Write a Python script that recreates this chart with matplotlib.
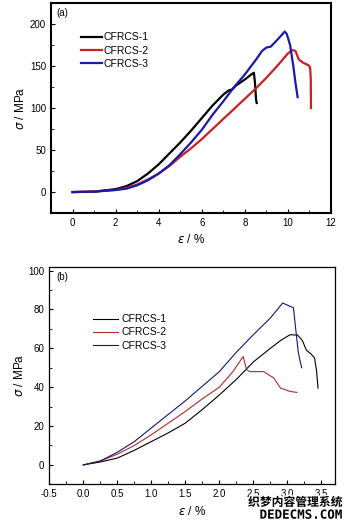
import numpy as np
import matplotlib.pyplot as plt
import matplotlib.patheffects as pe
from matplotlib.ticker import MultipleLocator

# panel (a)
a1_x = [0, 1, 2, 2.5, 3, 3.5, 4, 4.5, 5, 5.5, 6, 6.5, 7, 7.25, 7.4, 7.6, 8.0, 8.3, 8.42, 8.47, 8.52, 8.55]
a1_y = [0, 0.5, 3.5, 7, 13, 22, 33, 46, 59, 73, 88, 103, 116, 121, 122, 127, 134, 140, 142, 130, 110, 106]
a2_x = [0, 1, 2, 2.5, 3, 3.5, 4, 4.5, 5, 5.5, 6, 6.5, 7, 7.5, 8, 8.5, 9, 9.5, 10, 10.2, 10.35, 10.5, 10.7, 10.95, 11.03, 11.06, 11.07]
a2_y = [0, 0.5, 2.5, 5, 9, 15, 22, 31, 42, 52, 63, 75, 87, 99, 111, 123, 136, 150, 165, 169, 168, 158, 154, 151, 148, 135, 100]
a3_x = [0, 1, 2, 2.5, 3, 3.5, 4, 4.5, 5, 5.5, 6, 6.5, 7, 7.5, 8, 8.5, 8.8, 9.0, 9.2, 9.5, 9.85, 9.95, 10.1, 10.25, 10.35, 10.45]
a3_y = [0, 0.5, 2.5, 4, 8, 14, 22, 32, 45, 59, 74, 92, 108, 125, 140, 157, 168, 172, 173, 181, 191, 188, 175, 150, 130, 113]

# panel (b)
b1_x = [0, 0.25, 0.5, 0.75, 1.0, 1.25, 1.5, 1.75, 2.0, 2.25, 2.5, 2.75, 2.9, 3.04, 3.15, 3.22, 3.28, 3.35, 3.4, 3.43, 3.45]
b1_y = [0, 1.5, 3.5, 7.5, 12, 16.5, 21.5, 28.5, 36, 44, 53, 60, 64, 67, 66.8, 64, 59, 57, 55, 48, 39.5]
b2_x = [0, 0.25, 0.5, 0.75, 1.0, 1.25, 1.5, 1.75, 2.0, 2.2, 2.35, 2.4, 2.45, 2.65, 2.8, 2.9, 3.04, 3.14]
b2_y = [0, 2, 5.5, 10, 15.5, 21.5, 27.5, 34, 40, 48, 55.8, 49, 48, 48, 44.7, 39.5, 37.8, 37.3]
b3_x = [0, 0.25, 0.5, 0.75, 1.0, 1.25, 1.5, 1.75, 2.0, 2.25, 2.5, 2.75, 2.93, 3.04, 3.09, 3.11, 3.16, 3.19, 3.21]
b3_y = [0, 2, 6.5, 12, 19, 26, 33, 40.5, 48, 58, 67, 75.6, 83.3, 81.6, 80.8, 74, 58, 53, 50]

labels = ["CFRCS-1", "CFRCS-2", "CFRCS-3"]

plt.rcParams['font.family'] = ['Liberation Sans', 'DejaVu Sans']

fig = plt.figure(figsize=(3.53, 5.30), dpi=100)
ax1 = fig.add_axes([0.1445, 0.598, 0.7932, 0.3963])
ax2 = fig.add_axes([0.1397, 0.0862, 0.8093, 0.4106])

ax1.plot(a1_x, a1_y, color="black", lw=1.6, label=labels[0])
ax1.plot(a2_x, a2_y, color="#cc1f1f", lw=1.6, label=labels[1])
ax1.plot(a3_x, a3_y, color="#1a1aa8", lw=1.6, label=labels[2])
ax1.set_xlim(-1, 12)
ax1.set_ylim(-25, 225)
ax1.xaxis.set_major_locator(MultipleLocator(2))
ax1.xaxis.set_minor_locator(MultipleLocator(1))
ax1.yaxis.set_major_locator(MultipleLocator(50))
ax1.yaxis.set_minor_locator(MultipleLocator(25))
for s in ax1.spines.values():
    s.set_linewidth(1.5)
ax1.text(0.02, 0.975, "(a)", transform=ax1.transAxes, fontsize=7, va="top")
ax1.legend(loc="upper left", bbox_to_anchor=(0.088, 0.885), frameon=False, fontsize=7.5,
           handlelength=2.0, handletextpad=0.2, labelspacing=0.3, borderpad=0)
ax1.set_xlabel(r"$\varepsilon$ / %", fontsize=8.5, labelpad=4)
ax1.set_ylabel(r"$\sigma$ / MPa", fontsize=8.5, labelpad=2)

ax2.plot(b1_x, b1_y, color="black", lw=0.8, label=labels[0])
ax2.plot(b2_x, b2_y, color="#b02a2a", lw=0.8, label=labels[1])
ax2.plot(b3_x, b3_y, color="#141470", lw=0.8, label=labels[2])
ax2.set_xlim(-0.5, 3.7)
ax2.set_ylim(-10, 102)
ax2.xaxis.set_major_locator(MultipleLocator(0.5))
ax2.xaxis.set_minor_locator(MultipleLocator(0.25))
ax2.yaxis.set_major_locator(MultipleLocator(20))
ax2.yaxis.set_minor_locator(MultipleLocator(10))
ax2.xaxis.set_major_formatter(plt.FormatStrFormatter("%.1f"))
for s in ax2.spines.values():
    s.set_linewidth(0.9)
ax2.text(0.025, 0.975, "(b)", transform=ax2.transAxes, fontsize=7, va="top")
ax2.legend(loc="upper left", bbox_to_anchor=(0.135, 0.805), frameon=False, fontsize=7.5,
           handlelength=2.4, handletextpad=0.3, labelspacing=0.3, borderpad=0)
ax2.set_xlabel(r"$\varepsilon$ / %", fontsize=8.5, labelpad=4)
ax2.set_ylabel(r"$\sigma$ / MPa", fontsize=8.5, labelpad=2)

for ax in (ax1, ax2):
    ax.tick_params(which="both", direction="in", top=False, right=False, labelsize=7)
    ax.tick_params(which="major", length=3)
    ax.tick_params(which="minor", length=2)

# watermark in the lower right corner
halo = [pe.withStroke(linewidth=2, foreground="white")]
fig.text(0.969, 0.052, "织梦内容管理系统", family=['Noto Sans CJK SC', 'DejaVu Sans'],
         fontsize=8.5, fontweight="bold", ha="right", va="center", path_effects=halo)
fig.text(0.969, 0.028, "DEDECMS.COM", family=['DejaVu Sans Mono', 'DejaVu Sans'],
         fontsize=9, fontweight="bold", ha="right", va="center", path_effects=halo)

fig.savefig("out.png", dpi=100)
